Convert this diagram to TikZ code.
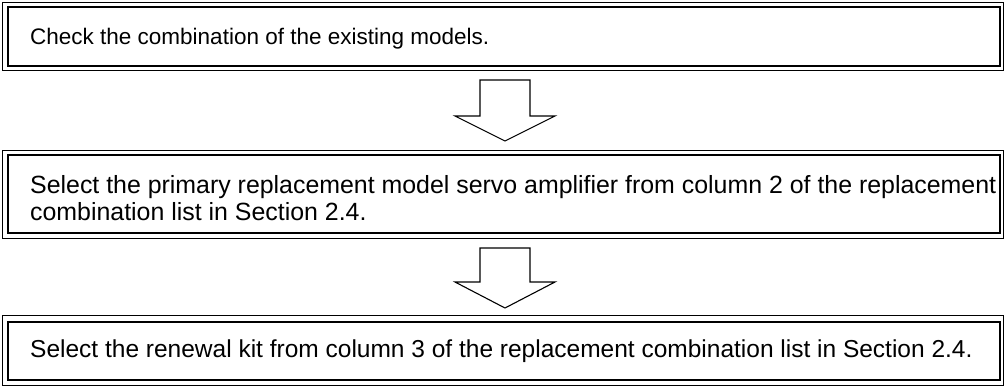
\documentclass[tikz,border=0pt]{standalone}
\usepackage{fontspec}
\setmainfont{Liberation Sans}
\begin{document}
\begin{tikzpicture}[x=1pt,y=-1pt,
    outerline/.style={line width=1pt},
    innerline/.style={line width=2pt},
    steptext/.style={anchor=base west, inner sep=0pt, align=left, font=\fontsize{24.5}{27}\selectfont},
    downarrow/.style={line width=1.1pt, line join=miter}]
    \useasboundingbox (0,0) rectangle (1005,388);
    \draw[outerline] (2,2.5) rectangle (1003.5,70.5); % box 1
    \draw[innerline] (8,6.5) rectangle (999.5,65.5);
    \node[steptext, font=\fontsize{22.5}{27}\selectfont] (check) at (30,44) {Check the combination of the existing models.};
    \draw[outerline] (2,150) rectangle (1003.5,238); % box 2
    \draw[innerline] (8,155) rectangle (999.5,233);
    \node[steptext, font=\fontsize{24.9}{27}\selectfont] (primary) at (30,220) {Select the primary replacement model servo amplifier from column 2 of the replacement\\combination list in Section 2.4.};
    \draw[outerline] (2,315) rectangle (1003.5,385.5); % box 3
    \draw[innerline] (8,321.5) rectangle (999.5,380);
    \node[steptext] (renewal) at (30,357) {Select the renewal kit from column 3 of the replacement combination list in Section 2.4.};
    \draw[downarrow] (480,80) -- (530,80) -- (530,116) -- (555,116) -- (505,141) -- (455,116) -- (480,116) -- cycle; % arrow 1
    \draw[downarrow] (480,248) -- (530,248) -- (530,282) -- (555,282) -- (505,308) -- (455,282) -- (480,282) -- cycle; % arrow 2
\end{tikzpicture}
\end{document}
